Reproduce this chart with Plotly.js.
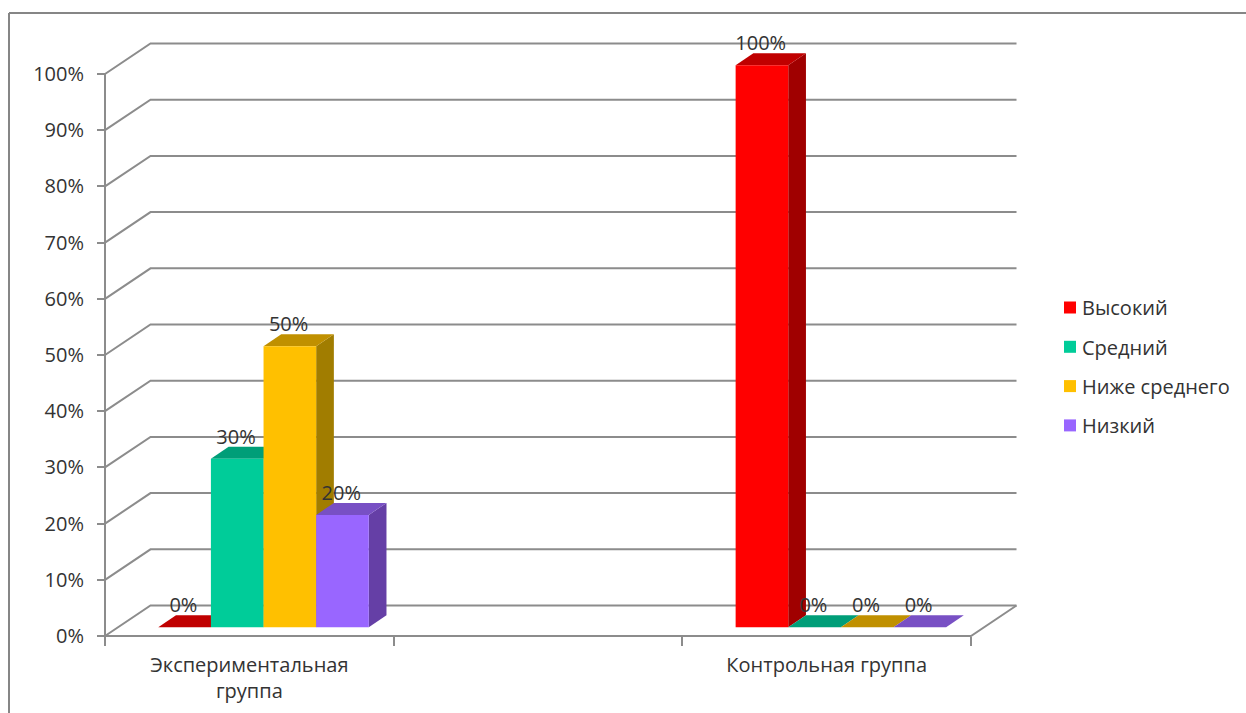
<!DOCTYPE html>
<html><head><meta charset="utf-8">
<script src="https://cdn.plot.ly/plotly-3.0.1.min.js"></script>
<style>html,body{margin:0;padding:0;background:#fff}#c{width:1246px;height:713px}</style></head>
<body><div id="c"></div>
<script>
const categories = ['Экспериментальная<br>группа', '', 'Контрольная группа'];
const seriesNames = ['Высокий', 'Средний', 'Ниже среднего', 'Низкий'];
const high = [0, null, 100];
const medium = [30, null, 0];
const belowAverage = [50, null, 0];
const low = [20, null, 0];
const gridValues = [0,10,20,30,40,50,60,70,80,90,100];
const frontColors = ['#FF0000', '#00CC99', '#FFC000', '#9966FF'];
const topColors = ['#C00000', '#009E78', '#C09000', '#7850C4'];
const sideColors = ['#A00000', '#008A68', '#A17D00', '#653FA6'];

const W = 1246, H = 713;
const FONT = '"Open Sans", sans-serif';
const FS = 20;
const TXT = '#333333', LINE = '#8C8C8C';
// pixel frame: front-left corner (X0,Y0); plot frame a little larger so lines are not clipped
const X0 = 105, Y0 = 636;
const L = 101, R = 1022, B = 640, T = 38;
const catPx = 288.67, valPx = 5.62;
const wallDx = 45.5 / catPx, wallDy = 30.5 / valPx;
const barDx = 17.7 / catPx, barDy = 12 / valPx;
const shiftX = 14.2 / catPx, shiftY = 8.7 / valPx;
const xR = [-0.5 - (X0 - L) / catPx, -0.5 + (R - X0) / catPx];
const yR = [-(B - Y0) / valPx, (Y0 - T) / valPx];
const xS = [xR[0] - shiftX, xR[1] - shiftX];
const yS = [yR[0] - shiftY, yR[1] - shiftY];
const bargap = 0.2708;
const catX = categories.map((_, i) => i);
const xTicks = [-0.5, 0.5, 1.5, 2.5];
const allSeries = [high, medium, belowAverage, low];
const traces = [];
const lineStyle = {color: LINE, width: 2};

// walls and gridlines
gridValues.forEach(v => traces.push({
  x: [-0.5, -0.5 + wallDx, 2.5 + wallDx], y: [v, v + wallDy, v + wallDy],
  mode: 'lines', line: lineStyle, showlegend: false, hoverinfo: 'skip'
}));
// axis line and floor edges
traces.push({x: [-0.5, -0.5], y: [0, 100], mode: 'lines', line: lineStyle, showlegend: false, hoverinfo: 'skip'});
traces.push({x: [-0.5, 2.5, 2.5 + wallDx], y: [0, 0, wallDy], mode: 'lines', line: lineStyle, showlegend: false, hoverinfo: 'skip'});
// invisible trace that brings in the category label axis
traces.push({x: [0], y: [0], xaxis: 'x4', yaxis: 'y', mode: 'none', showlegend: false, hoverinfo: 'skip'});

// top and side faces, derived from the values
const slot = (1 - bargap) / 4;
catX.forEach(c => {
  allSeries.forEach((vals, s) => {
    const v = vals[c];
    if (v === null) return;
    const x0 = c - (1 - bargap) / 2 + s * slot, x1 = x0 + slot;
    if (v > 0) traces.push({
      x: [x1, x1 + barDx, x1 + barDx, x1, x1], y: [0, barDy, v + barDy, v, 0],
      xaxis: 'x2', yaxis: 'y2', mode: 'lines', fill: 'toself', fillcolor: sideColors[s],
      line: {width: 0}, showlegend: false, hoverinfo: 'skip'
    });
    traces.push({
      x: [x0, x1, x1 + barDx, x0 + barDx, x0], y: [v, v, v + barDy, v + barDy, v],
      xaxis: 'x2', yaxis: 'y2', mode: 'lines', fill: 'toself', fillcolor: topColors[s],
      line: {width: 0}, showlegend: false, hoverinfo: 'skip'
    });
  });
});

// front faces
allSeries.forEach((vals, s) => traces.push({
  type: 'bar', name: seriesNames[s], x: catX, y: vals, xaxis: 'x3', yaxis: 'y3',
  marker: {color: frontColors[s], line: {width: 0}}, legendgroup: 'g' + s, hoverinfo: 'skip'
}));
// value labels
const labelX = [], labelY = [], labelT = [];
allSeries.forEach((vals, s) => vals.forEach((v, c) => {
  if (v === null) return;
  labelX.push(c - (1 - bargap) / 2 + (s + 0.5) * slot - 1.2 / catPx);
  labelY.push(v + 20 / valPx);
  labelT.push(v + '%');
}));
traces.push({x: labelX, y: labelY, text: labelT, xaxis: 'x3', yaxis: 'y3', mode: 'text',
  textposition: 'middle center', textfont: {family: FONT, size: FS, color: TXT}, showlegend: false, hoverinfo: 'skip', cliponaxis: false});

const xDom = [L / W, R / W], yDom = [1 - B / H, 1 - T / H];
const hidden = {showgrid: false, zeroline: false, showticklabels: false, ticks: '', showline: false, fixedrange: true};
const layout = {
  width: W, height: H, margin: {l: 0, r: 0, t: 0, b: 0}, paper_bgcolor: '#fff', plot_bgcolor: 'rgba(0,0,0,0)',
  font: {family: FONT, size: FS, color: TXT},
  barmode: 'group', bargap: bargap, bargroupgap: 0,
  xaxis: {domain: xDom, range: xR, type: 'linear', anchor: 'free', position: 1 - Y0 / H, showgrid: false, zeroline: false, showline: false, fixedrange: true,
    tickmode: 'array', tickvals: xTicks, ticktext: ['', '', '', ''], ticks: 'outside', ticklen: 9, tickwidth: 2, tickcolor: LINE},
  yaxis: {domain: yDom, range: yR, type: 'linear', anchor: 'free', position: X0 / W, showgrid: false, zeroline: false, showline: false, fixedrange: true,
    tickmode: 'array', tickvals: gridValues, ticktext: gridValues.map(v => v + '%'), ticks: 'outside', ticklen: 8, tickwidth: 2, tickcolor: LINE,
    ticklabelstandoff: 9, tickfont: {family: FONT, size: FS, color: TXT}},
  xaxis2: Object.assign({overlaying: 'x', anchor: 'y2', range: xS, type: 'linear'}, hidden),
  yaxis2: Object.assign({overlaying: 'y', anchor: 'x2', range: yS, type: 'linear'}, hidden),
  xaxis3: Object.assign({overlaying: 'x', anchor: 'y3', range: xS, type: 'linear'}, hidden),
  yaxis3: Object.assign({overlaying: 'y', anchor: 'x3', range: yS, type: 'linear'}, hidden),
  xaxis4: {overlaying: 'x', anchor: 'free', position: 1 - Y0 / H, range: xR, type: 'linear', showgrid: false, zeroline: false, showline: false, fixedrange: true,
    tickmode: 'array', tickvals: catX, ticktext: categories, ticks: '', ticklabelstandoff: 15, tickfont: {family: FONT, size: FS, color: TXT}},
  legend: {x: 1050 / W, y: 1 - 288 / H, xanchor: 'left', yanchor: 'top', bgcolor: 'rgba(0,0,0,0)', tracegroupgap: 10.3,
    itemwidth: 30, font: {family: FONT, size: FS, color: TXT}},
  showlegend: true,
  shapes: [
    {type: 'line', xref: 'paper', yref: 'paper', x0: 9 / W, x1: 9 / W, y0: 0, y1: 1 - 13 / H, line: {color: '#868686', width: 2}},
    {type: 'line', xref: 'paper', yref: 'paper', x0: 9 / W, x1: 1, y0: 1 - 13 / H, y1: 1 - 13 / H, line: {color: '#868686', width: 2}}
  ]
};
Plotly.newPlot('c', traces, layout, {displayModeBar: false, staticPlot: true}).then(() => {
  document.querySelectorAll('.legendtext').forEach(t => {
    t.setAttribute('x', parseFloat(t.getAttribute('x')) - 8);
  });
});
</script></body></html>
